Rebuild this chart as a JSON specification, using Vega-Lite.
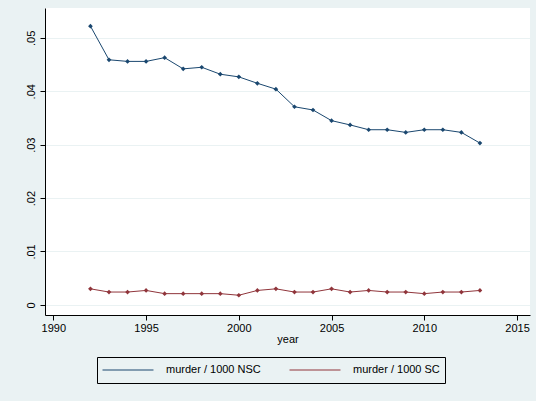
{
  "$schema": "https://vega.github.io/schema/vega-lite/v6.json",
  "autosize": "none",
  "width": 485,
  "height": 307,
  "padding": {"left": 45, "top": 8, "right": 6, "bottom": 86},
  "background": "#eaf2f3",
  "data": {
    "values": [
      {"year": 1992, "s": "murder / 1000 NSC", "v": 0.0522},
      {"year": 1993, "s": "murder / 1000 NSC", "v": 0.0459},
      {"year": 1994, "s": "murder / 1000 NSC", "v": 0.0456},
      {"year": 1995, "s": "murder / 1000 NSC", "v": 0.0456},
      {"year": 1996, "s": "murder / 1000 NSC", "v": 0.0463},
      {"year": 1997, "s": "murder / 1000 NSC", "v": 0.0442},
      {"year": 1998, "s": "murder / 1000 NSC", "v": 0.0445},
      {"year": 1999, "s": "murder / 1000 NSC", "v": 0.0432},
      {"year": 2000, "s": "murder / 1000 NSC", "v": 0.0427},
      {"year": 2001, "s": "murder / 1000 NSC", "v": 0.0415},
      {"year": 2002, "s": "murder / 1000 NSC", "v": 0.0404},
      {"year": 2003, "s": "murder / 1000 NSC", "v": 0.0371},
      {"year": 2004, "s": "murder / 1000 NSC", "v": 0.0365},
      {"year": 2005, "s": "murder / 1000 NSC", "v": 0.0345},
      {"year": 2006, "s": "murder / 1000 NSC", "v": 0.0337},
      {"year": 2007, "s": "murder / 1000 NSC", "v": 0.0328},
      {"year": 2008, "s": "murder / 1000 NSC", "v": 0.0328},
      {"year": 2009, "s": "murder / 1000 NSC", "v": 0.0323},
      {"year": 2010, "s": "murder / 1000 NSC", "v": 0.0328},
      {"year": 2011, "s": "murder / 1000 NSC", "v": 0.0328},
      {"year": 2012, "s": "murder / 1000 NSC", "v": 0.0323},
      {"year": 2013, "s": "murder / 1000 NSC", "v": 0.0303},
      {"year": 1992, "s": "murder / 1000 SC", "v": 0.0030},
      {"year": 1993, "s": "murder / 1000 SC", "v": 0.0024},
      {"year": 1994, "s": "murder / 1000 SC", "v": 0.0024},
      {"year": 1995, "s": "murder / 1000 SC", "v": 0.0027},
      {"year": 1996, "s": "murder / 1000 SC", "v": 0.0021},
      {"year": 1997, "s": "murder / 1000 SC", "v": 0.0021},
      {"year": 1998, "s": "murder / 1000 SC", "v": 0.0021},
      {"year": 1999, "s": "murder / 1000 SC", "v": 0.0021},
      {"year": 2000, "s": "murder / 1000 SC", "v": 0.0018},
      {"year": 2001, "s": "murder / 1000 SC", "v": 0.0027},
      {"year": 2002, "s": "murder / 1000 SC", "v": 0.0030},
      {"year": 2003, "s": "murder / 1000 SC", "v": 0.0024},
      {"year": 2004, "s": "murder / 1000 SC", "v": 0.0024},
      {"year": 2005, "s": "murder / 1000 SC", "v": 0.0030},
      {"year": 2006, "s": "murder / 1000 SC", "v": 0.0024},
      {"year": 2007, "s": "murder / 1000 SC", "v": 0.0027},
      {"year": 2008, "s": "murder / 1000 SC", "v": 0.0024},
      {"year": 2009, "s": "murder / 1000 SC", "v": 0.0024},
      {"year": 2010, "s": "murder / 1000 SC", "v": 0.0021},
      {"year": 2011, "s": "murder / 1000 SC", "v": 0.0024},
      {"year": 2012, "s": "murder / 1000 SC", "v": 0.0024},
      {"year": 2013, "s": "murder / 1000 SC", "v": 0.0027}
    ]
  },
  "mark": {"type": "line", "strokeWidth": 1, "point": {"shape": "diamond", "size": 22, "filled": true}},
  "encoding": {
    "x": {
      "field": "year", "type": "quantitative", "title": "year",
      "scale": {"domain": [1989.55, 2015.7], "nice": false, "zero": false},
      "axis": {"values": [1990, 1995, 2000, 2005, 2010, 2015], "format": "d", "grid": false,
               "domainColor": "black", "tickColor": "black", "labelColor": "black", "titleColor": "black",
               "labelFont": "Arial", "titleFont": "Arial", "labelFontSize": 11, "titleFontSize": 11,
               "titleFontWeight": "normal", "titlePadding": 0, "tickSize": 5}
    },
    "y": {
      "field": "v", "type": "quantitative", "title": null,
      "scale": {"domain": [-0.0019, 0.0556], "nice": false, "zero": false},
      "axis": {"values": [0, 0.01, 0.02, 0.03, 0.04, 0.05],
               "labelExpr": "datum.value == 0 ? '0' : replace(format(datum.value, '.2f'), '0.', '.')",
               "labelAngle": -90, "labelAlign": "center", "labelBaseline": "bottom", "labelPadding": 4,
               "gridColor": "#eaf2f3", "domainColor": "black", "tickColor": "black", "labelColor": "black",
               "labelFont": "Arial", "labelFontSize": 11, "tickSize": 5}
    },
    "color": {
      "field": "s", "type": "nominal", "title": null,
      "scale": {"range": ["#1a476f", "#90353b"]},
      "legend": {"orient": "none", "legendX": 52, "legendY": 349, "direction": "horizontal",
                 "strokeColor": "black", "padding": 5, "columnPadding": 28, "labelOffset": 12,
                 "symbolType": "stroke", "symbolSize": 2600, "symbolStrokeWidth": 1, "clipHeight": 16,
                 "labelFont": "Arial", "labelFontSize": 11, "labelColor": "black"}
    }
  },
  "config": {"view": {"stroke": null, "fill": "white"}}
}
